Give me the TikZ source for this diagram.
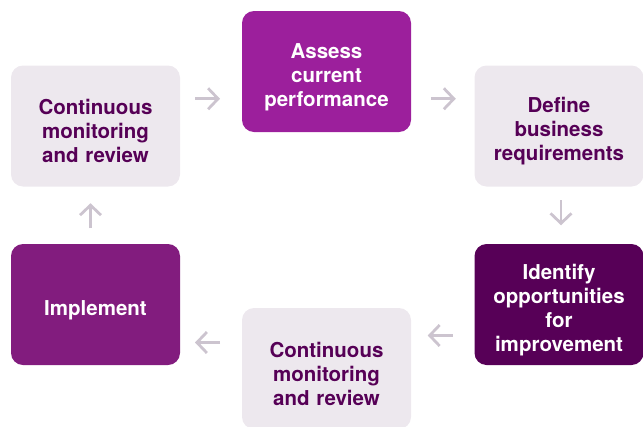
\documentclass[tikz,border=0pt]{standalone}
\usepackage{fontspec}
\setmainfont{TeX Gyre Heros}
\usetikzlibrary{arrows.meta,calc}

\definecolor{boxgray}{HTML}{EDE8EE}
\definecolor{textplum}{HTML}{560056}
\definecolor{assesspurple}{HTML}{9C1F9C}
\definecolor{implpurple}{HTML}{821C7E}
\definecolor{identplum}{HTML}{570057}
\definecolor{arrowgray}{HTML}{CCC4CF}

\begin{document}
\begin{tikzpicture}[x=1pt, y=1pt,
    stagebox/.style={rounded corners=12pt, minimum width=169pt, minimum height=121pt,
        text width=160pt, align=center, inner sep=0pt,
        font=\fontsize{20.5}{24}\selectfont\bfseries,
        execute at begin node={\rule{0pt}{26pt}}},
    graybox/.style={stagebox, fill=boxgray, text=textplum},
    flow/.style={draw=arrowgray, line width=2.8pt,
        -{Straight Barb[length=10pt, width=21pt]}}]
            \useasboundingbox (0,0) rectangle (643,-426);

            \node (monitortop) [graybox] at (95.5,-126) {Continuous\\monitoring\\and review};
            \node (assess) [stagebox, fill=assesspurple, text=white] at (326.5,-71.5) {Assess\\current\\performance};
            \node (define) [graybox] at (559,-126) {Define\\business\\requirements};
            \node (identify) [stagebox, fill=identplum, text=white] at (559,-304.5) {Identify\\opportunities\\for\\improvement};
            \node (monitorbottom) [graybox] at (326.5,-368.5) {Continuous\\monitoring\\and review};
            \node (implement) [stagebox, fill=implpurple, text=white] at (95.5,-304.5) {Implement};

            % gap arrows between the boxes
            \coordinate (gap1) at ($(monitortop.east)!0.5!(assess.west)$);
            \coordinate (gap2) at ($(assess.east)!0.5!(define.west)$);
            \coordinate (gap3) at ($(define.south)!0.5!(identify.north)$);
            \coordinate (gap4) at ($(identify.west)!0.5!(monitorbottom.east)$);
            \coordinate (gap5) at ($(monitorbottom.west)!0.5!(implement.east)$);
            \coordinate (gap6) at ($(implement.north)!0.5!(monitortop.south)$);

            \draw[flow] ([xshift=-16pt]gap1) -- ([xshift=9pt]gap1);
            \draw[flow] ([xshift=-12pt]gap2) -- ([xshift=13pt]gap2);
            \draw[flow] ([xshift=2pt,yshift=15pt]gap3) -- ([xshift=2pt,yshift=-10pt]gap3);
            \draw[flow] ([xshift=10pt,yshift=1pt]gap4) -- ([xshift=-15pt,yshift=1pt]gap4);
            \draw[flow] ([xshift=9pt,yshift=-6pt]gap5) -- ([xshift=-16pt,yshift=-6pt]gap5);
            \draw[flow] ([xshift=-5pt,yshift=-13pt]gap6) -- ([xshift=-5pt,yshift=12pt]gap6);
        \end{tikzpicture}
\end{document}
